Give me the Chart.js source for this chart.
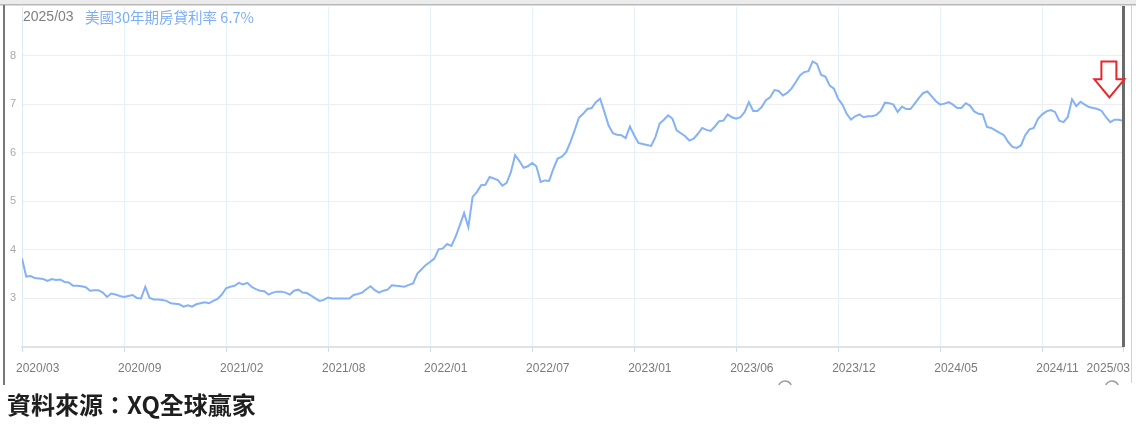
<!DOCTYPE html>
<html>
<head>
<meta charset="utf-8">
<script src="https://cdn.jsdelivr.net/npm/chart.js@4/dist/chart.umd.min.js"></script>
<style>
  html, body { margin: 0; padding: 0; background: #fff; }
  #wrap { width: 1136px; height: 437px; position: relative; }
</style>
</head>
<body>
<div id="wrap"><canvas id="rateChart"></canvas></div>
<script>
// 美國30年期房貸利率 (週資料, 2020/03 ~ 2025/03)
const rates = [
  3.82, 3.45, 3.46, 3.42, 3.41, 3.40, 3.36, 3.40, 3.38, 3.39,
  3.34, 3.33, 3.26, 3.26, 3.25, 3.23, 3.16, 3.17, 3.17, 3.12,
  3.03, 3.10, 3.08, 3.05, 3.03, 3.05, 3.07, 3.01, 3.00, 3.24,
  3.01, 2.98, 2.98, 2.97, 2.95, 2.90, 2.89, 2.88, 2.83, 2.86,
  2.83, 2.88, 2.90, 2.92, 2.90, 2.95, 2.99, 3.08, 3.21, 3.24,
  3.26, 3.32, 3.29, 3.32, 3.24, 3.19, 3.16, 3.15, 3.08, 3.12,
  3.14, 3.14, 3.12, 3.08, 3.16, 3.18, 3.12, 3.11, 3.06, 3.00,
  2.95, 2.97, 3.02, 3.00, 3.00, 3.00, 3.00, 3.00, 3.07, 3.09,
  3.12, 3.19, 3.25, 3.17, 3.12, 3.16, 3.18, 3.27, 3.26, 3.25,
  3.24, 3.28, 3.31, 3.51, 3.60, 3.69, 3.75, 3.82, 4.01, 4.03,
  4.12, 4.08, 4.27, 4.51, 4.76, 4.47, 5.09, 5.19, 5.33, 5.34,
  5.50, 5.47, 5.43, 5.32, 5.38, 5.60, 5.95, 5.83, 5.69, 5.72,
  5.79, 5.72, 5.40, 5.43, 5.42, 5.67, 5.88, 5.92, 6.01, 6.22,
  6.46, 6.72, 6.80, 6.90, 6.92, 7.04, 7.11, 6.84, 6.56, 6.40,
  6.37, 6.36, 6.30, 6.54, 6.36, 6.20, 6.18, 6.16, 6.14, 6.32,
  6.60, 6.68, 6.77, 6.70, 6.46, 6.40, 6.34, 6.25, 6.29, 6.39,
  6.51, 6.47, 6.45, 6.54, 6.65, 6.66, 6.79, 6.73, 6.70, 6.73,
  6.84, 7.04, 6.86, 6.86, 6.94, 7.08, 7.14, 7.29, 7.27, 7.18,
  7.23, 7.32, 7.45, 7.59, 7.66, 7.68, 7.88, 7.83, 7.60, 7.57,
  7.38, 7.32, 7.11, 6.99, 6.80, 6.68, 6.75, 6.79, 6.73, 6.75,
  6.75, 6.78, 6.86, 7.03, 7.02, 6.99, 6.84, 6.95, 6.90, 6.90,
  7.01, 7.13, 7.23, 7.26, 7.16, 7.06, 6.99, 7.01, 7.04, 6.99,
  6.92, 6.92, 7.02, 6.97, 6.85, 6.80, 6.79, 6.53, 6.51, 6.46,
  6.41, 6.36, 6.22, 6.12, 6.10, 6.15, 6.36, 6.48, 6.51, 6.70,
  6.79, 6.85, 6.88, 6.84, 6.66, 6.63, 6.73, 7.10, 6.96, 7.05,
  6.99, 6.94, 6.92, 6.90, 6.86, 6.73, 6.63, 6.68, 6.68, 6.66
];

// x 軸刻度 (週序號) 與標籤
const tickWeeks = [0, 24, 48, 72, 96, 120, 144, 168, 192, 216, 240, 259];
const tickLabels = ['2020/03', '2020/09', '2021/02', '2021/08', '2022/01', '2022/07',
                    '2023/01', '2023/06', '2023/12', '2024/05', '2024/11', '2025/03'];
const yTicks = [3, 4, 5, 6, 7, 8];

const headerDate = '2025/03';
const headerTitle = '美國30年期房貸利率 6.7%';
const sourceText = '資料來源：XQ全球贏家';

const lineColor = '#84b2f4';

// 外框、標題、x 軸標籤、箭頭
const decorPlugin = {
    id: 'decor',
    beforeDraw(chart) {
        const c = chart.ctx;
        c.save();
        c.fillStyle = '#ebebeb';
        c.fillRect(0, 0, chart.width, 4);
        c.fillStyle = '#b8b8b8';
        c.fillRect(0, 4, chart.width, 1.5);
        c.fillStyle = '#777';
        c.fillRect(3, 5, 2, 380);
        c.fillStyle = '#d0d0d0';
        c.fillRect(1131, 5, 1, 378);
        c.restore();
    },
    afterDraw(chart) {
        const c = chart.ctx;
        const xs = chart.scales.x;
        const ys = chart.scales.y;
        const area = chart.chartArea;
        c.save();

        // 標題
        c.textBaseline = 'middle';
        c.textAlign = 'left';
        c.font = '14px "Liberation Sans", Arial, sans-serif';
        c.fillStyle = '#808080';
        c.fillText(headerDate, 23, 17);
        c.font = '14.5px "Noto Sans CJK TC", "Liberation Sans", sans-serif';
        c.fillStyle = '#7eaef5';
        c.fillText(headerTitle, 85, 17);

        // x 軸小刻度與標籤
        c.font = '12px "Liberation Sans", Arial, sans-serif';
        c.fillStyle = '#7a7a7a';
        c.strokeStyle = '#cfdfe9';
        c.lineWidth = 1;
        tickWeeks.forEach((w, i) => {
            const x = xs.getPixelForValue(w);
            c.beginPath();
            c.moveTo(Math.round(x) + 0.5, area.bottom);
            c.lineTo(Math.round(x) + 0.5, area.bottom + 5);
            c.stroke();
            const last = i === tickWeeks.length - 1;
            c.textAlign = last ? 'right' : 'left';
            c.fillText(tickLabels[i], last ? x + 7 : x - 6, 369);
        });

        // 右側深色線
        const xEnd = xs.getPixelForValue(259);
        c.fillStyle = '#6a6a6a';
        c.fillRect(xEnd - 1, 6, 3, area.bottom - 6);

        // 紅色向下箭頭
        const ax = xs.getPixelForValue(255.8);
        const yTop = ys.getPixelForValue(7.88);
        const yNeck = ys.getPixelForValue(7.51);
        const yTip = ys.getPixelForValue(7.14);
        c.beginPath();
        c.moveTo(ax - 8, yTop);
        c.lineTo(ax + 7, yTop);
        c.lineTo(ax + 7, yNeck);
        c.lineTo(ax + 15, yNeck);
        c.lineTo(ax, yTip);
        c.lineTo(ax - 15, yNeck);
        c.lineTo(ax - 8, yNeck);
        c.closePath();
        c.fillStyle = '#fff';
        c.fill();
        c.strokeStyle = '#e8262a';
        c.lineWidth = 2;
        c.stroke();

        // 底部小圓弧
        c.strokeStyle = '#9a9a9a';
        c.lineWidth = 1.5;
        [785, 1112].forEach(cx => {
            c.beginPath();
            c.arc(cx, 388, 7, Math.PI * 1.15, Math.PI * 1.85);
            c.stroke();
        });

        // 資料來源
        c.textAlign = 'left';
        c.font = 'bold 24px "Noto Sans CJK TC", "Noto Sans CJK SC", sans-serif';
        c.fillStyle = '#1e1e1e';
        c.fillText(sourceText, 7, 405);
        c.restore();
    }
};

const ctx = document.getElementById('rateChart').getContext('2d');
new Chart(ctx, {
    type: 'line',
    data: {
        labels: rates.map((_, i) => i),
        datasets: [{
            data: rates.map((v, i) => ({ x: i, y: v })),
            borderColor: lineColor,
            borderWidth: 2,
            pointRadius: 0,
            tension: 0,
            fill: false
        }]
    },
    options: {
        responsive: true,
        maintainAspectRatio: false,
        animation: false,
        layout: {
            padding: { left: 5, right: 13, top: 7, bottom: 90 }
        },
        plugins: {
            legend: { display: false },
            tooltip: { enabled: false }
        },
        scales: {
            x: {
                type: 'linear',
                min: 0,
                max: 259,
                afterBuildTicks: scale => {
                    scale.ticks = tickWeeks.map(v => ({ value: v }));
                },
                afterFit: scale => {
                    scale.height = 0;
                    scale.paddingLeft = 0;
                    scale.paddingRight = 0;
                },
                ticks: { display: false },
                grid: {
                    color: '#e4f1fa',
                    lineWidth: 1,
                    drawTicks: false
                },
                border: { color: '#e2e2e2', width: 2 }
            },
            y: {
                min: 2,
                max: 9,
                afterBuildTicks: scale => {
                    scale.ticks = yTicks.map(v => ({ value: v }));
                },
                afterFit: scale => {
                    scale.width = 17;
                    scale.paddingTop = 0;
                    scale.paddingBottom = 0;
                },
                ticks: {
                    padding: 6,
                    color: '#ababab',
                    font: { size: 11, family: '"Liberation Sans", Arial, sans-serif' }
                },
                grid: {
                    color: '#eeeeee',
                    drawTicks: false
                },
                border: { color: '#dfe8ee', width: 1 }
            }
        }
    },
    plugins: [decorPlugin]
});
</script>
</body>
</html>
